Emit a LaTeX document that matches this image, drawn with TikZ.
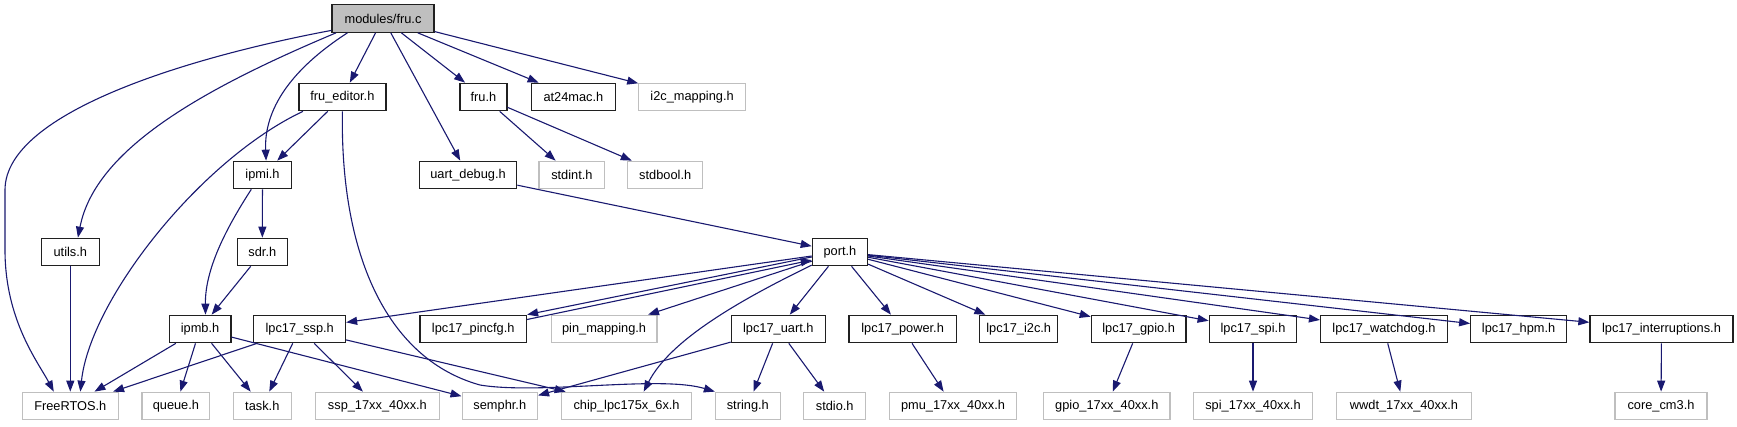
\documentclass[tikz,border=0pt]{standalone}
\usepackage{fontspec}
\setmainfont{Liberation Sans}
\usetikzlibrary{arrows.meta}
\definecolor{edgecol}{HTML}{191970}
\definecolor{greyb}{HTML}{BFBFBF}
\definecolor{bord}{HTML}{202020}
\tikzset{
  box/.style={draw=bord, line width=1.2pt, fill=white, inner sep=0pt, minimum height=27.5pt, font=\fontsize{12.8}{15}\selectfont, text=black},
  ext/.style={box, draw=greyb},
  root/.style={box, fill=greyb},
  edge/.style={draw=edgecol, line width=1.1pt, -{Triangle[length=11pt,width=8pt]}, shorten >=0pt}
}
\begin{document}
\begin{tikzpicture}[x=1pt,y=-1pt]
\fill[white] (0,0) rectangle (1737,427);
\useasboundingbox (0,0) rectangle (1737,427);
% row 0
\node[root, minimum width=102] (fru) at (383,18.5) {modules/fru.c};
% row 1
\node[box, minimum width=87] (fruedit) at (342.4,97) {fru\_editor.h};
\node[box, minimum width=47] (fruh) at (483.4,97) {fru.h};
\node[box, minimum width=83.5] (at24) at (573.4,97) {at24mac.h};
\node[ext, minimum width=106.6] (i2cmap) at (692.1,97) {i2c\_mapping.h};
% row 2
\node[box, minimum width=57.4] (ipmi) at (262.5,175) {ipmi.h};
\node[box, minimum width=97.6] (uartdbg) at (468,175) {uart\_debug.h};
\node[ext, minimum width=65.8] (stdint) at (571.9,175) {stdint.h};
\node[ext, minimum width=75] (stdbool) at (665.2,175) {stdbool.h};
% row 3
\node[box, minimum width=57.7] (utils) at (70.3,252) {utils.h};
\node[box, minimum width=50.4] (sdr) at (262.3,252) {sdr.h};
\node[box, minimum width=55.2] (port) at (839.9,252) {port.h};
% row 4
\node[box, minimum width=61.8] (ipmb) at (200,329) {ipmb.h};
\node[box, minimum width=91.7] (ssp) at (299.7,329) {lpc17\_ssp.h};
\node[box, minimum width=106.6] (pincfg) at (473.2,329) {lpc17\_pincfg.h};
\node[ext, minimum width=105.8] (pinmap) at (604.1,329) {pin\_mapping.h};
\node[box, minimum width=94] (uart) at (778.3,329) {lpc17\_uart.h};
\node[box, minimum width=107.2] (power) at (902.6,329) {lpc17\_power.h};
\node[box, minimum width=77.7] (i2c) at (1018.7,329) {lpc17\_i2c.h};
\node[box, minimum width=94.6] (gpio) at (1138.6,329) {lpc17\_gpio.h};
\node[box, minimum width=87.6] (spi) at (1253,329) {lpc17\_spi.h};
\node[box, minimum width=126.9] (wdog) at (1384,329) {lpc17\_watchdog.h};
\node[box, minimum width=95.8] (hpm) at (1518.6,329) {lpc17\_hpm.h};
\node[box, minimum width=143.1] (intr) at (1661.5,329) {lpc17\_interruptions.h};
% row 5
\node[ext, minimum width=96.2] (freertos) at (70.3,406) {FreeRTOS.h};
\node[ext, minimum width=67.7] (queue) at (175.9,406) {queue.h};
\node[ext, minimum width=57.8] (task) at (262.3,406) {task.h};
\node[ext, minimum width=124.3] (sspx) at (377.4,406) {ssp\_17xx\_40xx.h};
\node[ext, minimum width=75.4] (semphr) at (499.8,406) {semphr.h};
\node[ext, minimum width=130.1] (chip) at (626.6,406) {chip\_lpc175x\_6x.h};
\node[ext, minimum width=64.7] (string) at (747.8,406) {string.h};
\node[ext, minimum width=61.8] (stdio) at (834.7,406) {stdio.h};
\node[ext, minimum width=127.3] (pmu) at (953,406) {pmu\_17xx\_40xx.h};
\node[ext, minimum width=126.4] (gpiox) at (1106.8,406) {gpio\_17xx\_40xx.h};
\node[ext, minimum width=119.5] (spix) at (1253,406) {spi\_17xx\_40xx.h};
\node[ext, minimum width=134.3] (wwdt) at (1404,406) {wwdt\_17xx\_40xx.h};
\node[ext, minimum width=92] (core) at (1661,406) {core\_cm3.h};
% edges from fru.c
\draw[edge] (fru.193) .. controls (200,55) and (5,110) .. (5,190) -- (5,250) .. controls (5,320) and (38,362) .. (freertos.139);
\draw[edge] (fru.197) .. controls (200,90) and (95,150) .. (utils.62);
\draw[edge] (fru.202) .. controls (290,70) and (264,110) .. (ipmi.76);
\draw[edge] (fru) -- (fruedit);
\draw[edge] (fru) -- (uartdbg);
\draw[edge] (fru) -- (fruh);
\draw[edge] (fru) -- (at24);
\draw[edge] (fru) -- (i2cmap);
% fru_editor
\draw[edge] (fruedit) -- (ipmi);
\draw[edge] (fruedit.200) .. controls (200,160) and (90,300) .. (freertos.55);
\draw[edge] (fruedit.south) .. controls (340,260) and (390,360) .. (480,385) .. controls (540,395) and (660,375) .. (string.north west);
% fru.h
\draw[edge] (fruh) -- (stdint);
\draw[edge] (fruh) -- (stdbool);
% ipmi
\draw[edge] (ipmi) -- (sdr);
\draw[edge] (ipmi.232) .. controls (225,230) and (205,270) .. (ipmb.69);
\draw[edge] (sdr) -- (ipmb);
\draw[edge] (utils) -- (freertos);
\draw[edge] (uartdbg) -- (port);
% ipmb
\draw[edge] (ipmb) -- (freertos);
\draw[edge] (ipmb) -- (queue);
\draw[edge] (ipmb) -- (task);
\draw[edge] (ipmb) -- (semphr);
% ssp
\draw[edge] (ssp) -- (freertos);
\draw[edge] (ssp) -- (task);
\draw[edge] (ssp) -- (sspx);
\draw[edge] (ssp) -- (chip);
% port
\draw[edge] (port) -- (ssp);
\draw[edge] (port.190) -- (pincfg.north east);
\draw[edge] (pincfg.10) -- (port.196);
\draw[edge] (port) -- (pinmap);
\draw[edge] (port.205) .. controls (740,300) and (670,340) .. (chip.40);
\draw[edge] (port) -- (uart);
\draw[edge] (port) -- (power);
\draw[edge] (port) -- (i2c);
\draw[edge] (port) -- (gpio);
\draw[edge] (port) -- (spi);
\draw[edge] (port) -- (wdog);
\draw[edge] (port) -- (hpm);
\draw[edge] (port) -- (intr);
% lower
\draw[edge] (uart) -- (semphr);
\draw[edge] (uart) -- (string);
\draw[edge] (uart) -- (stdio);
\draw[edge] (power) -- (pmu);
\draw[edge] (gpio) -- (gpiox);
\draw[edge] (spi) -- (spix);
\draw[edge] (wdog) -- (wwdt);
\draw[edge] (intr) -- (core);
\end{tikzpicture}
\end{document}
